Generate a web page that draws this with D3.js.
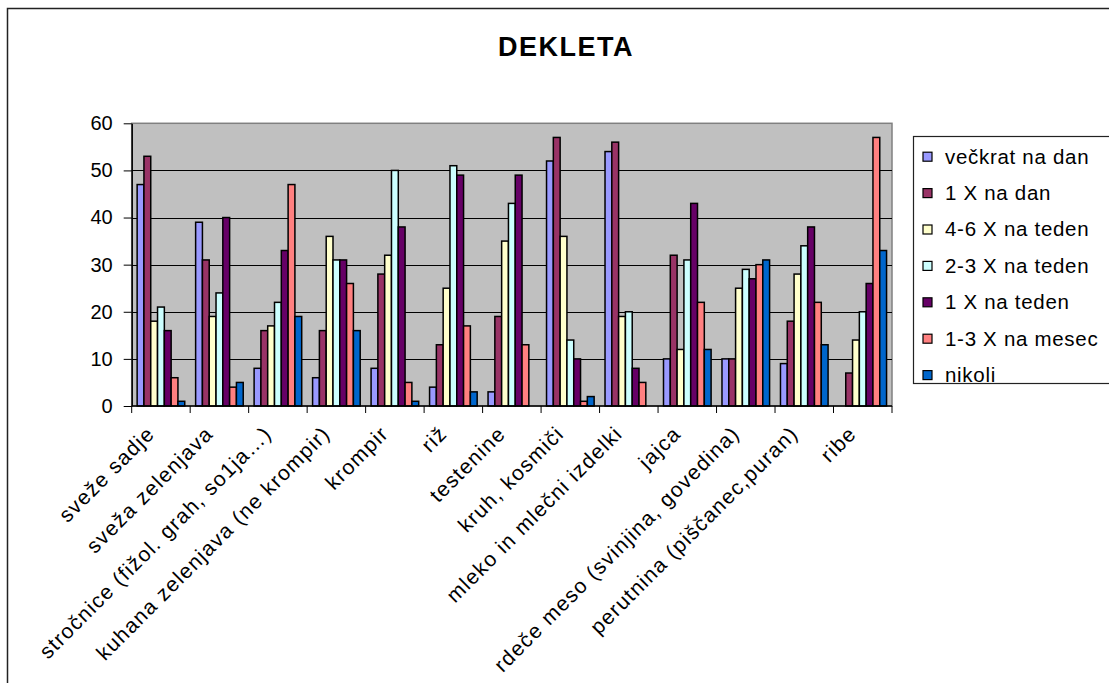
<!DOCTYPE html>
<html>
<head>
<meta charset="utf-8">
<script src="https://cdn.jsdelivr.net/npm/d3@7"></script>
<style>
  html, body { margin: 0; padding: 0; background: #fff; }
  svg { display: block; font-family: "Liberation Sans", Arial, sans-serif; }
</style>
</head>
<body>
<svg id="chart" width="1109" height="683"></svg>
<script>
// Food groups (categories)
const categories = [
  "sveže sadje",
  "sveža zelenjava",
  "stročnice (fižol. grah, so1ja…)",
  "kuhana zelenjava (ne krompir)",
  "krompir",
  "riž",
  "testenine",
  "kruh, kosmiči",
  "mleko in mlečni izdelki",
  "jajca",
  "rdeče meso (svinjina, govedina)",
  "perutnina (piščanec,puran)",
  "ribe"
];

// Frequency series
const seriesNames = [
  "večkrat na dan",
  "1 X na dan",
  "4-6 X na teden",
  "2-3 X na teden",
  "1 X na teden",
  "1-3 X na mesec",
  "nikoli"
];

const seriesColors = ["#9999FF", "#993366", "#FFFFCC", "#CCFFFF", "#660066", "#FF8080", "#0066CC"];

// Values per series, one entry per category
const vecKratNaDan   = [47, 39,  8,  6,  8,  4,  3, 52, 54, 10, 10,  9,  0];
const enkratNaDan    = [53, 31, 16, 16, 28, 13, 19, 57, 56, 32, 10, 18,  7];
const stiriSestTeden = [18, 19, 17, 36, 32, 25, 35, 36, 19, 12, 25, 28, 14];
const dvaTriTeden    = [21, 24, 22, 31, 50, 51, 43, 14, 20, 31, 29, 34, 20];
const enkratTeden    = [16, 40, 33, 31, 38, 49, 49, 10,  8, 43, 27, 38, 26];
const enaTriMesec    = [ 6,  4, 47, 26,  5, 17, 13,  1,  5, 22, 30, 22, 57];
const nikoli         = [ 1,  5, 19, 16,  1,  3,  0,  2,  0, 12, 31, 13, 33];

const seriesValues = [vecKratNaDan, enkratNaDan, stiriSestTeden, dvaTriTeden, enkratTeden, enaTriMesec, nikoli];

const yTicks = [0, 10, 20, 30, 40, 50, 60];

const svg = d3.select("#chart");

// Outer chart frame
svg.append("rect")
  .attr("x", 7.5).attr("y", 8.5)
  .attr("width", 1120).attr("height", 700)
  .attr("fill", "#fff")
  .attr("stroke", "#222").attr("stroke-width", 1.5);

// Title
svg.append("text")
  .attr("x", 566).attr("y", 56)
  .attr("text-anchor", "middle")
  .attr("font-size", 27).attr("font-weight", "bold")
  .attr("letter-spacing", 1.5)
  .text("DEKLETA");

const plot = { left: 131.7, top: 123.3, right: 892, bottom: 406 };

const x = d3.scaleBand()
  .domain(categories)
  .range([plot.left, plot.right])
  .padding(0);

const xs = d3.scaleBand()
  .domain(seriesNames)
  .range([0, x.bandwidth()])
  .paddingInner(0)
  .paddingOuter(0.8);

const y = d3.scaleLinear()
  .domain([0, 60])
  .range([plot.bottom, plot.top]);

// Plot area background
svg.append("rect")
  .attr("x", plot.left).attr("y", plot.top)
  .attr("width", plot.right - plot.left).attr("height", plot.bottom - plot.top)
  .attr("fill", "#C0C0C0")
  .attr("stroke", "#808080").attr("stroke-width", 1.5);

// Gridlines
svg.append("g")
  .selectAll("line")
  .data(yTicks.filter(d => d > 0 && d < 60))
  .join("line")
  .attr("x1", plot.left).attr("x2", plot.right)
  .attr("y1", d => Math.round(y(d)) + 0.5).attr("y2", d => Math.round(y(d)) + 0.5)
  .attr("stroke", "#000").attr("stroke-width", 1);

// Bars
const groups = svg.append("g")
  .selectAll("g")
  .data(seriesNames.map((name, i) => ({ name, color: seriesColors[i], values: seriesValues[i] })))
  .join("g")
  .attr("fill", d => d.color);

groups.selectAll("rect")
  .data(d => d.values.map((v, j) => ({ series: d.name, cat: categories[j], v })).filter(e => e.v > 0))
  .join("rect")
  .attr("x", d => x(d.cat) + xs(d.series))
  .attr("y", d => y(d.v))
  .attr("width", xs.bandwidth())
  .attr("height", d => y(0) - y(d.v))
  .attr("stroke", "#000")
  .attr("stroke-width", 1.5);

// Y axis
const yAxis = svg.append("g")
  .attr("transform", `translate(${plot.left},0)`)
  .call(d3.axisLeft(y).tickValues(yTicks).tickSize(8).tickPadding(11).tickSizeOuter(0));
yAxis.select(".domain").attr("stroke", "#000").attr("stroke-width", 1.5);
yAxis.selectAll(".tick line").attr("stroke", "#000").attr("stroke-width", 1);
yAxis.selectAll(".tick text")
  .attr("font-size", 20).attr("font-family", "Liberation Sans, Arial, sans-serif")
  .attr("fill", "#000");

// X axis: ticks between categories
const xBoundaries = categories.map(c => x(c)).concat([x(categories[categories.length - 1]) + x.bandwidth()]);
const xAxis = svg.append("g");
xAxis.append("line")
  .attr("x1", plot.left).attr("x2", plot.right)
  .attr("y1", plot.bottom).attr("y2", plot.bottom)
  .attr("stroke", "#000").attr("stroke-width", 1.5);
xAxis.selectAll("line.tick")
  .data(xBoundaries)
  .join("line")
  .attr("class", "tick")
  .attr("x1", d => d).attr("x2", d => d)
  .attr("y1", plot.bottom).attr("y2", plot.bottom + 7)
  .attr("stroke", "#000").attr("stroke-width", 1);

xAxis.selectAll("text")
  .data(categories)
  .join("text")
  .attr("transform", d => `translate(${x(d) + x.bandwidth() / 2 - 5},${plot.bottom + 29}) rotate(-45)`)
  .attr("text-anchor", "end")
  .attr("font-size", 21)
  .attr("letter-spacing", 1.3)
  .attr("fill", "#000")
  .text(d => d);

// Legend
const legend = svg.append("g");
legend.append("rect")
  .attr("x", 913.5).attr("y", 136.5)
  .attr("width", 220).attr("height", 247)
  .attr("fill", "#fff")
  .attr("stroke", "#222").attr("stroke-width", 1.2);

const items = legend.selectAll("g.item")
  .data(seriesNames)
  .join("g")
  .attr("class", "item")
  .attr("transform", (d, i) => `translate(0,${156.7 + i * 36.4})`);

items.append("rect")
  .attr("x", 923).attr("y", -4.5)
  .attr("width", 9).attr("height", 9)
  .attr("fill", (d, i) => seriesColors[i])
  .attr("stroke", "#000").attr("stroke-width", 1.2);

items.append("text")
  .attr("x", 945).attr("y", 6.8)
  .attr("font-size", 20.5)
  .attr("letter-spacing", 0.7)
  .attr("fill", "#000")
  .text(d => d);
</script>
</body>
</html>
